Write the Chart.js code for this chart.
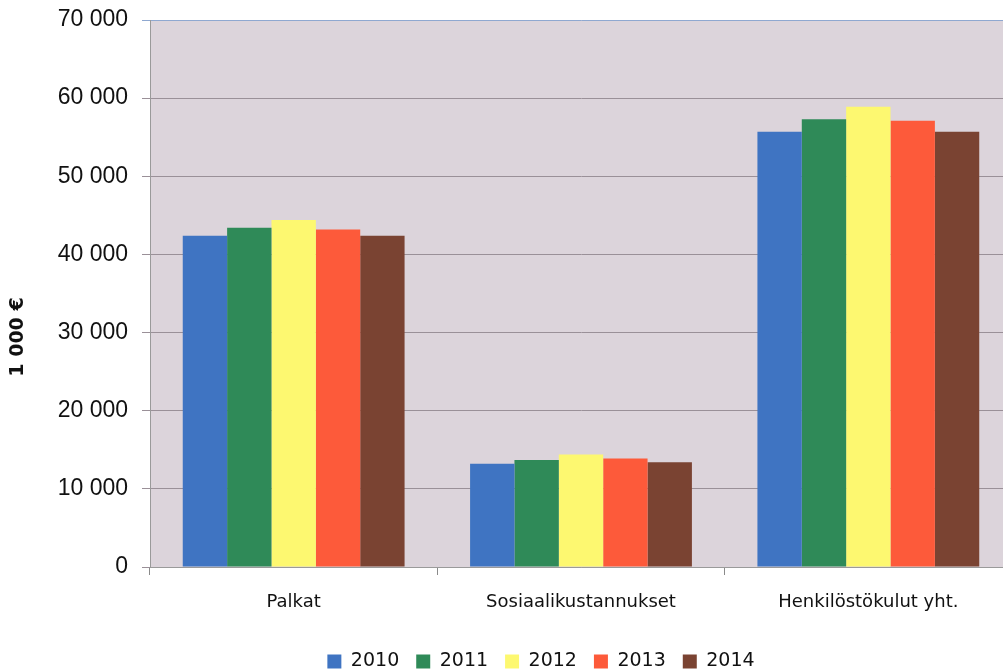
<!DOCTYPE html>
<html>
<head>
<meta charset="utf-8">
<script src="https://cdn.jsdelivr.net/npm/chart.js@4.4.1/dist/chart.umd.min.js"></script>
<style>
  html, body { margin: 0; padding: 0; background: #ffffff; overflow: hidden; }
  #wrap { position: relative; width: 1082px; height: 681px; }
</style>
</head>
<body>
<div id="wrap"><canvas id="chart" width="1082" height="681"></canvas></div>
<script>
// Henkilöstökulut 2010–2014, 1 000 €
const categories = ['Palkat', 'Sosiaalikustannukset', 'Henkilöstökulut yht.'];
const years = ['2010', '2011', '2012', '2013', '2014'];
const values2010 = [42400, 13200, 55700];
const values2011 = [43400, 13700, 57300];
const values2012 = [44400, 14400, 58900];
const values2013 = [43200, 13900, 57100];
const values2014 = [42400, 13400, 55700];
const yTicks = [0, 10000, 20000, 30000, 40000, 50000, 60000, 70000];
const yTitle = '1 000 €';

const seriesValues = [values2010, values2011, values2012, values2013, values2014];
const seriesColors = ['#3f74c2', '#2f8a58', '#fdf870', '#fd5a3a', '#7a4332'];

const labelFont = "'DejaVu Sans', sans-serif";

// Plot area background
const plotBackground = {
  id: 'plotBackground',
  beforeDraw(chart) {
    const { ctx, chartArea: a } = chart;
    ctx.save();
    ctx.fillStyle = '#dcd4db';
    ctx.fillRect(a.left, a.top, a.right - a.left, a.bottom - a.top);
    ctx.restore();
  }
};

// Rotated y-axis title
const yAxisTitle = {
  id: 'yAxisTitle',
  afterDraw(chart) {
    const { ctx } = chart;
    ctx.save();
    ctx.translate(18, 337);
    ctx.rotate(-Math.PI / 2);
    ctx.font = "bold 19px 'DejaVu Sans', sans-serif";
    ctx.fillStyle = '#111111';
    ctx.textAlign = 'center';
    ctx.textBaseline = 'middle';
    ctx.fillText(yTitle, 0, 0);
    ctx.restore();
  }
};

new Chart(document.getElementById('chart'), {
  type: 'bar',
  data: {
    labels: categories,
    datasets: years.map((y, i) => ({
      label: y,
      data: seriesValues[i],
      backgroundColor: seriesColors[i],
      borderWidth: 0,
      barPercentage: 1.0,
      categoryPercentage: 0.772
    }))
  },
  options: {
    responsive: false,
    animation: false,
    devicePixelRatio: 1,
    layout: { padding: { top: 20, left: 0, right: 0, bottom: 0 } },
    plugins: {
      legend: {
        position: 'bottom',
        labels: {
          font: { family: labelFont, size: 19 },
          color: '#111111',
          boxWidth: 14,
          boxHeight: 14,
          padding: 17
        }
      },
      tooltip: { enabled: false }
    },
    scales: {
      x: {
        grid: {
          display: true,
          drawOnChartArea: false,
          drawTicks: true,
          tickLength: 8,
          color: '#8a8a8a',
          offset: true
        },
        border: { display: true, color: '#9a9a9a' },
        ticks: {
          font: { family: labelFont, size: 18 },
          color: '#111111',
          padding: 17,
          maxRotation: 0
        },
        afterFit(scale) { scale.height = 68; scale.paddingLeft = 0; scale.paddingRight = 0; }
      },
      y: {
        min: 0,
        max: 70000,
        afterBuildTicks(scale) { scale.ticks = yTicks.map(v => ({ value: v })); },
        grid: {
          color: (c) => c.tick && c.tick.value === 70000 ? '#8fa8d0' : '#9a9098',
          tickLength: 8,
          lineWidth: 1
        },
        border: { display: true, color: '#9a9a9a' },
        ticks: {
          font: { family: "'Liberation Sans', sans-serif", size: 23 },
          color: '#111111',
          padding: 14,
          callback: (v) => v === 0 ? '0' : String(v).replace(/\B(?=(\d{3})+(?!\d))/g, ' ')
        },
        afterFit(scale) { scale.width = 150; scale.paddingTop = 0; scale.paddingBottom = 0; }
      },
      yRight: {
        position: 'right',
        display: true,
        grid: { display: false, drawTicks: false },
        border: { display: false },
        ticks: { display: false },
        afterFit(scale) { scale.width = 70; scale.paddingTop = 0; scale.paddingBottom = 0; }
      }
    }
  },
  plugins: [plotBackground, yAxisTitle]
});
</script>
</body>
</html>
